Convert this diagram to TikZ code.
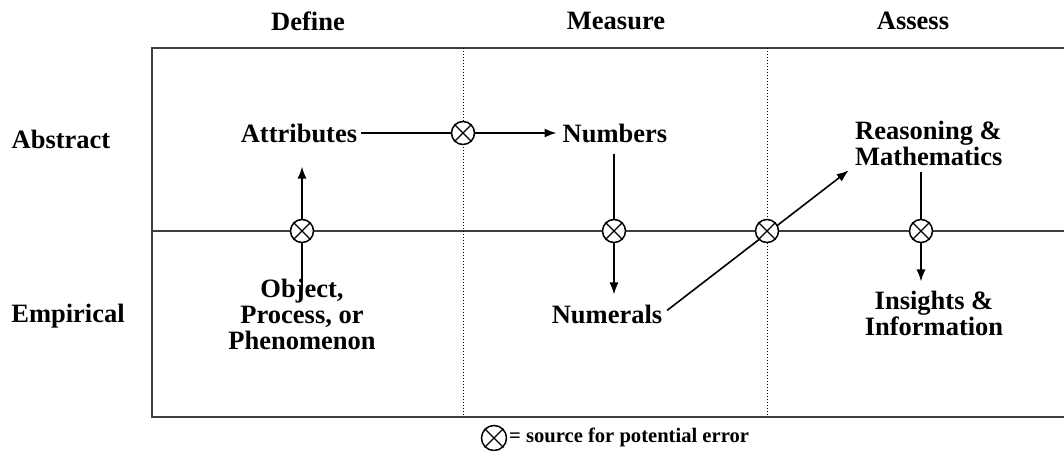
\documentclass[tikz,border=0pt]{standalone}
\usepackage{fontspec}
\setmainfont{Liberation Serif}
\usetikzlibrary{arrows.meta}

\begin{document}
\begin{tikzpicture}[x=1pt, y=-1pt,
    lbl/.style={font=\bfseries\fontsize{26.5}{26}\selectfont, inner sep=0pt, align=center},
    err/.style={circle, draw, fill=white, line width=1.5pt, minimum size=23pt, inner sep=0pt},
    flow/.style={-{Latex[length=12pt,width=9pt]}, line width=1.6pt},
    frame/.style={draw=black!75, line width=2.2pt}]
    \useasboundingbox (0,0) rectangle (1064,450);

    % grid
    \draw[frame] (1064,48) -- (152,48) -- (152,417) -- (1064,417);
    \draw[frame] (152,231) -- (1064,231);
    \draw[dotted, line width=1pt] (463,48) -- (463,417);
    \draw[dotted, line width=1pt] (767,48) -- (767,417);

    % headers
    \node[lbl] (define) at (308,21) {Define};
    \node[lbl] (measure) at (616,21) {Measure};
    \node[lbl] (assess) at (913,21) {Assess};
    \node[lbl] (abstract) at (61,139) {Abstract};
    \node[lbl] (empirical) at (68,316) {Empirical};

    % stages
    \node[lbl] (attr) at (299,133) {Attributes};
    \node[lbl] (num) at (615,133) {Numbers};
    \node[lbl, align=left, anchor=west] (reason) at (855,143) {Reasoning \&\\Mathematics};
    \node[lbl] (obj) at (302,314) {Object,\\Process, or\\Phenomenon};
    \node[lbl] (numerals) at (607,314) {Numerals};
    \node[lbl] (ins) at (934,313) {Insights \&\\Information};

    % error points
    \coordinate (p1) at (302,231);
    \coordinate (p2) at (463,133);
    \coordinate (p3) at (614,231);
    \coordinate (p4) at (767,231);
    \coordinate (p5) at (921,231);

    \draw[flow, shorten <=-12pt, shorten >=24pt] (p1 |- obj.north) -- (p1 |- attr.south);
    \draw[flow, shorten <=4pt, shorten >=6pt] (attr.east) -- (num.west);
    \draw[flow, shorten <=11pt, shorten >=10pt] (p3 |- num.south) -- (p3 |- numerals.north);
    \draw[flow, shorten <=6pt, shorten >=8pt] (numerals.east) -- (reason.south west);
    \draw[flow, shorten <=6pt, shorten >=9pt] (p5 |- reason.south) -- (p5 |- ins.north);

    \node[err] (e1) at (p1) {};
    \node[err] (e2) at (p2) {};
    \node[err] (e3) at (p3) {};
    \node[err] (e4) at (p4) {};
    \node[err] (e5) at (p5) {};

    % legend
    \node[err, minimum size=25pt] (leg) at (494,438) {};
    \node[lbl, font=\bfseries\fontsize{20.6}{20}\selectfont, anchor=west] (legtxt) at (509,437) {= source for potential error};

    \foreach \m in {e1,e2,e3,e4,e5,leg}
        \draw[line width=1.1pt] (\m.north east) -- (\m.south west) (\m.north west) -- (\m.south east);
\end{tikzpicture}
\end{document}
